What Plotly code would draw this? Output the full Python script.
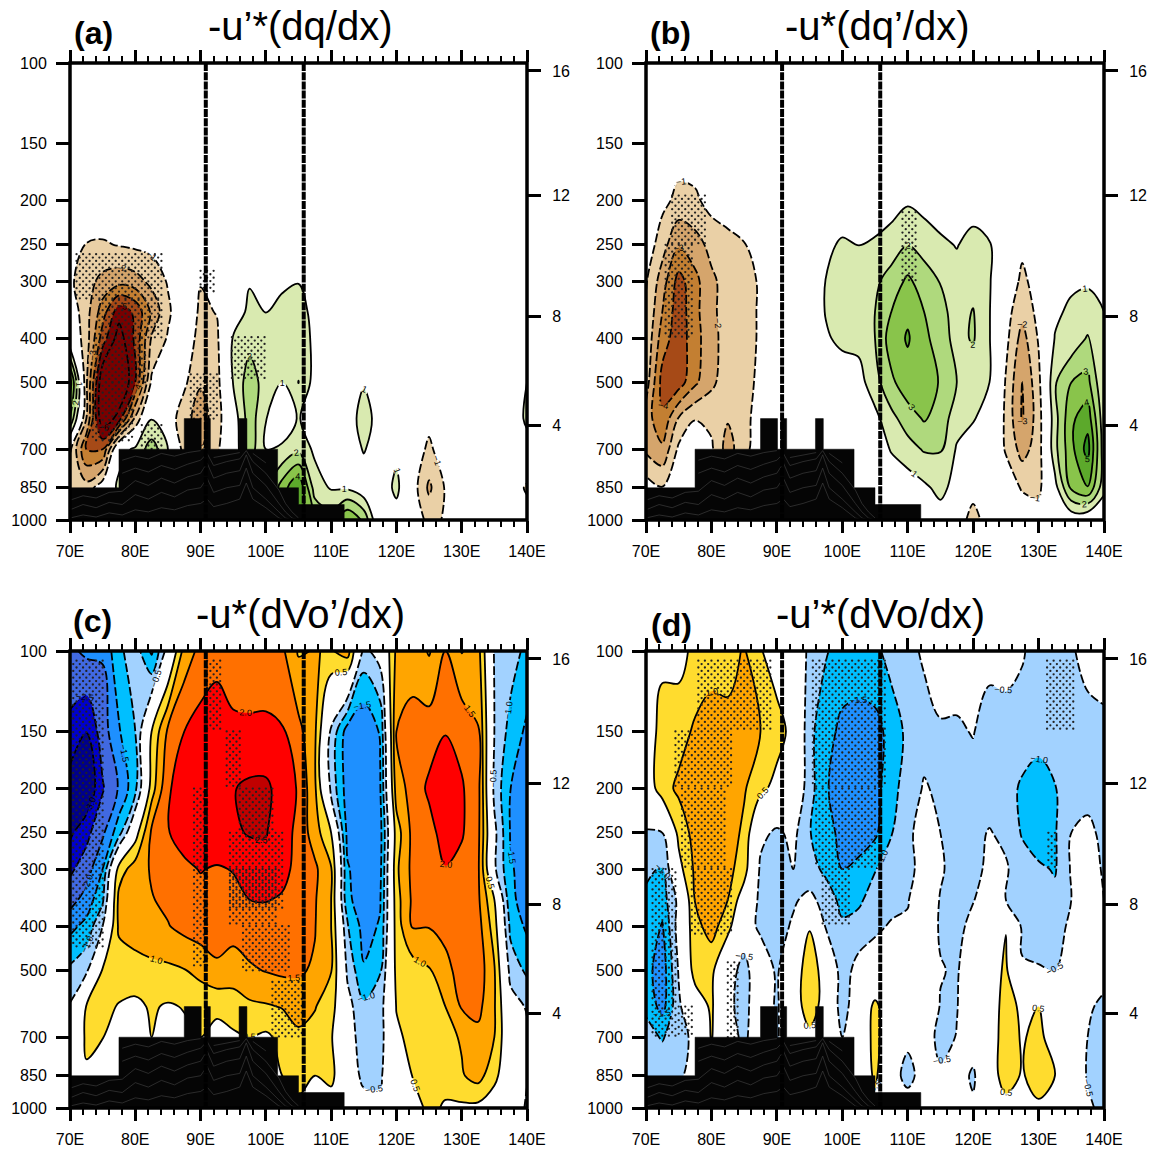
import plotly.graph_objects as go

lons = [70,72.5,75,77.5,80,82.5,85,87.5,90,92.5,95,97.5,100,102.5,105,107.5,110,112.5,115,117.5,120,122.5,125,127.5,130,132.5,135,137.5,140]
levs = [100,150,200,250,300,350,400,500,600,700,850,1000]

panel_a = [
 [0]*29,
 [0]*29,
 [0,-.2,-.3,-.2,-.2,-.1,0,0,0,0,0,0,0,0,0,0,0,0,0,0,0,0,0,0,0,0,0,0,0],
 [0,-1.05,-1.1,-.95,-.8,-.7,-.2,0,0,0,0,.1,.1,.1,.1,0,0,0,0,0,0,0,0,0,0,0,0,0,0],
 [-.8,-1.6,-2.3,-2.6,-2.4,-1.7,-.9,0,-.95,-.7,0,.9,.6,.8,.95,.3,0,0,0,0,0,0,0,0,0,0,0,0,0],
 [-.3,-1.6,-3.5,-5.6,-4.8,-2.8,-1.2,-.1,-1.2,-.95,.2,1.3,.98,1.3,1.5,.6,0,0,0,0,0,0,0,0,0,0,0,0,0],
 [0,-1.5,-4.5,-6.5,-4.8,-1.9,-.9,-.1,-1.5,-1.2,1.1,1.6,1.5,1.5,1.5,.8,0,0,.2,0,0,0,0,0,0,0,0,0,.2],
 [4.5,-1.8,-7,-7.5,-5,-.8,0,-.8,-1.9,-1.4,1.05,2.6,1.5,1.0,2.02,.6,0,.2,.92,.2,0,0,-.1,0,0,0,0,.2,1.0],
 [3,-2,-7,-5.5,-1.8,.95,-.4,-1.6,-2.5,-1.5,.3,2.6,1.02,.6,1.05,.6,.1,.5,1.4,.6,.2,-.3,-.7,-.2,0,0,0,.3,1.2],
 [-.8,-4,-4,.5,1.2,2.5,1.1,-1.5,-2,-1.2,.2,2.5,1.0,1.1,1.7,.8,.2,.2,1.1,.3,.7,-.4,-1.2,-.4,0,0,0,0,.6],
 [-1.3,-1.6,-.3,1.3,2,1,0,-.5,-1,-.5,.5,1.5,1.5,3.5,5,1.5,.9,.85,.2,.2,1.3,-.5,-2.2,-.9,0,0,0,-.2,-1.2],
 [0,0,0,0,0,0,0,0,0,0,0,0,1,3,4.5,3,2.5,4,2.8,-.3,.4,-.3,-1.3,-.9,0,0,0,0,-.3],
]
panel_b = [
 [0]*29,
 [0,0,-.4,-.3,0,0,0,0,0,0,0,0,0,0,0,0,.2,0,0,0,0,0,0,0,0,0,0,0,0],
 [0,-.7,-1.3,-1.2,-.6,-.3,-.1,0,0,0,0,0,0,0,.1,.5,.85,.6,.4,.3,.5,0,0,0,0,0,0,0,0],
 [-.3,-1.6,-2.9,-2.4,-1.7,-1.4,-1.05,-.7,-.1,.1,.2,.7,1.2,.98,1.2,1.5,1.98,1.6,1.2,.95,1.35,1.1,.2,-.8,-.2,0,.1,.1,0],
 [-.9,-2.5,-4.4,-3.3,-2.2,-1.6,-1.3,-.9,-.1,.1,.4,1.03,1.3,1.3,1.8,2.4,3.2,2.5,1.95,1.4,1.6,1.1,-.3,-1.2,-.6,.3,.8,.9,.6],
 [-1.05,-3,-4.6,-3.3,-2.2,-1.6,-1.3,-.9,-.1,.1,.4,1.05,1.3,1.4,2,3,3.8,3,2.3,1.6,2.05,1.05,-.6,-1.7,-.7,.8,1.2,1.3,1],
 [-1.2,-3.5,-4.6,-3.4,-2.3,-1.6,-1.3,-.9,-.1,0,.3,.9,1.2,1.3,2,3.5,4.1,3.3,2.4,1.7,2.1,1.05,-.7,-2.4,-.9,1.05,1.3,2.1,1],
 [-1.5,-4.4,-4.5,-3.2,-2.2,-1.5,-1.3,-.8,0,0,0,.1,.5,.6,1.6,2.8,3.6,3.3,2.95,2,1.5,1,-1.1,-3.05,-1.3,1.9,3,3.3,1],
 [-2.5,-3.8,-1.9,-1.05,-1.3,-1.9,-1.2,-.7,0,0,0,0,0,.1,.7,1.7,2.5,3.1,2.6,1.4,1.1,.4,-1.2,-3.1,-1.5,1.6,3.8,4.6,1.3],
 [-2.2,-2.8,-.8,-.2,-.8,-2.5,-1.2,-.6,0,0,0,0,0,0,.2,1.1,1.6,2.1,2.1,.9,.3,0,-1.1,-2.4,-1.5,1.7,3.7,5.4,1.4],
 [-.5,-.95,-.3,0,-.3,-1,-.5,-.2,0,0,0,0,0,0,0,.1,.4,.8,1.3,.6,-.2,0,-.4,-1.1,-1.3,.6,3.2,3.95,1.3],
 [0,0,0,0,0,0,0,0,0,0,0,0,0,0,0,0,0,.2,.5,.1,-1.8,0,0,-.3,-.4,0,.2,0,0],
]
panel_c = [
 [-4.2,-3.8,-3.9,-2.2,-1.5,-3.2,-.5,2.4,3.3,3.5,3.6,3.5,3.4,3.2,1.9,2.05,1.9,2.5,-1.3,-.5,2.2,2.6,1.9,3.0,1.95,2.4,-1.1,-1.5,-2.3],
 [-5.3,-5.98,-4.5,-3.1,-2.0,1.0,3.2,4.0,4.4,4.8,4.15,4.15,4.2,4.1,3.3,2.2,-1.2,-3.5,-3.9,-2.9,3.0,3.3,3.5,3.95,3.7,3.1,-1.0,-2.4,-3.2],
 [-6.5,-7,-5.1,-3.9,-2.3,1.5,3.9,4.4,4.6,4.9,4.95,5.2,5.2,4.6,3.9,2.2,-1.3,-3.5,-3.9,-3.1,2.5,3.4,4.2,4.7,4.1,3.4,-1.3,-3.0,-3.5],
 [-6.2,-5.3,-4.2,-2.4,.5,3.2,3.95,4.4,4.6,4.8,4.9,5.05,5.05,4.5,3.7,2.5,1.0,-3.3,-3.8,-3.4,1.5,3.3,3.6,4.5,4.1,3.3,-.7,-3.1,-3.9],
 [-5.2,-4.5,-3.0,1.5,2.5,3.1,3.5,3.8,4.05,3.9,4.05,4.6,4.8,4.3,3.7,3.2,2.1,-2.9,-3.6,-3.3,1.8,3.3,3.6,3.95,3.7,3.2,-.8,-2.9,-3.4],
 [-4.4,-3.6,-2.2,2.3,2.8,2.95,3.2,3.6,3.7,3.6,3.7,4.0,4.05,3.9,3.5,3.1,2.0,-2.8,-3.5,-3.1,1.6,3.2,3.4,3.5,3.4,3.2,1.0,-2.8,-3.4],
 [-3.3,-2.7,-1.0,2.2,2.6,2.8,2.95,3.3,3.5,3.5,3.5,3.6,3.5,3.4,3.3,3.05,2.0,-1.9,-3.4,-2.9,1.5,3.1,3.05,3.3,3.5,3.4,1.5,-2.3,-3.2],
 [-1.8,-1.2,1.1,1.4,1.5,1.7,1.8,1.95,2.3,2.8,2.4,2.85,3.05,3.2,3.1,2.9,2.05,-1.2,-2.9,-2.1,1.3,1.5,1.9,2.7,3.4,3.6,2.1,-1.4,-2.2],
 [-.9,1.05,1.2,.95,.8,1.1,.9,1.05,1.3,1.2,1.6,1.8,1.9,2.05,2.6,2.05,1.5,-.6,-1.8,-1.5,1.05,1.4,1.6,2.0,3.1,3.3,2.1,-.5,-1.1],
 [-.5,1.2,1.03,.5,.6,1.0,.6,.8,1.0,.7,.8,1.0,.8,1.3,1.7,1.7,1.1,-.4,-1.6,-1.5,.8,1.3,1.5,1.7,2.1,2.7,2.0,-.2,-.8],
 [0,.85,.3,.4,.5,.5,.5,.5,.5,.5,.5,.5,.5,1,1.3,1.0,1.3,-.2,-1.3,-1.2,.4,1.03,1.5,1.3,1.9,2.4,1.3,0,-.9],
 [0,0,0,0,0,0,0,0,0,0,0,0,0,.5,.8,.3,.4,0,-.5,-.7,0,.6,1.2,.9,.8,.7,.3,0,-1.2],
]
panel_d = [
 [0,.8,.6,1.3,1.6,1.6,2.1,1.1,.3,-.2,-1.2,-1.9,-2.5,-2.4,-2.3,-1.5,-1.3,-.85,-.5,-.6,-.5,-.7,-.7,-.93,-1.3,-1.5,-1.1,-.7,-.6],
 [.5,1.3,1.6,2.15,2.4,2.3,2.4,2.0,1.5,.6,-1.7,-2.7,-3.2,-3.4,-3.3,-2.7,-1.7,-1.4,-1.1,-1.1,-.96,-1.4,-1.3,-1.3,-1.5,-1.6,-1.6,-1.3,-1.2],
 [.2,1.6,2.2,2.5,2.6,2.6,2.1,1.3,.6,.2,-1.6,-2.9,-3.5,-3.6,-3.4,-2.3,-1.6,-.9,-1.2,-1.3,-1.3,-1.4,-1.5,-2.2,-2.6,-2.05,-1.4,-1.3,-1.2],
 [-1.1,-1,1.3,2.4,2.6,2.5,1.8,-.7,-1.2,-.7,-1.95,-2.6,-3.3,-3.6,-3.2,-2.05,-1.2,-.6,-1,-1.3,-1.2,-.95,-1.2,-2.1,-2.7,-2.1,-1.0,-.8,-1.2],
 [-1.9,-2.05,.6,2.2,2.5,2.3,1.5,-1.2,-1.2,-1,-1.5,-2.3,-3,-2.7,-2.05,-1.6,-1.3,-.6,-.9,-1.3,-1.4,-.7,-.9,-1.5,-1.8,-2.1,-.9,-.6,-1.1],
 [-2.1,-2.5,-.7,2.05,2.3,2.0,.3,-1.3,-1.3,-1.1,-.8,-1.3,-2.4,-2.2,-1.5,-1.3,-1.05,-.4,-1.05,-1.3,-1.05,-.5,-1.0,-1.3,-1.4,-1.7,-1.0,-.5,-1.0],
 [-2.1,-3.1,-.5,1.7,2.4,1.4,-.5,-1.2,-1.3,-.9,.9,-1.1,-1.8,-1.6,-1.2,-.9,-.9,-.4,-1.1,-1.3,-.7,.6,.95,-1.2,-1.3,-1.4,-.8,-.2,-.7],
 [-2.6,-3.6,-.9,1.5,1.3,-.6,-1.3,-.3,-1.15,.1,1.8,.3,-1.5,-.6,-.4,-.5,-.5,-.3,-.95,-1.1,-.3,.4,1.2,-.9,-.95,-1.0,-.5,-.2,-.5],
 [-2.2,-3.4,-1.2,.2,1.2,-.8,-1.3,-.3,-1.15,.1,1.8,.3,-1.5,-.2,1.3,.1,0,-.2,-1.05,-1.05,-.2,.4,1.4,.8,1.0,.1,0,-.8,-1.3],
 [-1.6,-2.1,-1.3,-.8,1.1,-.6,-1.2,-.3,-1.15,.1,.6,-.3,-1,-.1,1.4,0,-.6,-.3,-1.4,-.95,-.3,.4,1.5,.9,1.3,.4,0,-1.0,-1.4],
 [-1.2,-1.2,-1.2,-.5,.5,-.5,-1,-.3,-1,-.5,0,-.5,-.5,0,1.2,-.2,-1.6,-.2,-.8,-.4,-1.2,.4,1.5,.9,1.5,1.0,0,-1.1,-1.5],
 [-.5,0,0,0,0,0,0,0,0,0,0,0,0,0,.7,0,0,0,-.2,-.2,-.8,0,.6,.1,.8,.3,0,-.8,-1.3],
]
for grid in (panel_a, panel_b, panel_c, panel_d):
    assert len(grid) == len(levs) and all(len(r) == len(lons) for r in grid)

terrain_edges = [70,77.5,87.5,90.1,90.6,91.5,95.9,97.1,101.8,105,112]
terrain_pres  = [850,700,600,700,600,700,600,700,850,925]

# faint contour traces that show through the terrain mask
ground_lon = [70,72,74,76,78,80,82,84,86,88,90,91,92,94,96,97,98,100,102,103,104,105]
ground_lines = [
 [990,975,985,965,975,950,960,940,950,930,920,900,935,920,900,830,900,940,990,1000,1000,1000],
 [950,925,940,915,925,880,900,870,890,860,850,810,870,850,840,770,850,900,960,990,1000,1000],
 [905,885,895,870,865,820,840,810,830,805,790,750,810,790,780,720,790,840,920,960,990,1000],
 [None,None,None,None,790,770,785,760,775,755,740,715,760,745,735,705,745,790,860,920,960,990],
 [None,None,None,None,740,725,735,715,725,712,705,None,730,720,712,None,715,750,None,None,None,None],
]

# significance stipple areas: lon0, lon1, p0, p1
stipple_a = [(71,84,262,330),(74.5,84,330,400),(74,81.5,400,500),(73.5,79.5,500,670),(90,92,285,320),(88.5,92.5,480,600),(94.8,100,398,495),(81,84,620,700)]
stipple_b = [(74,79,195,250),(73,77,250,400),(109.2,111.2,212,300)]
stipple_c = [(70,75,105,450),(91,93.4,105,150),(94,96.3,150,200),(96,101,200,260),(94.5,102.6,250,370),(89,91,200,490),(94.5,101.5,300,400),(96.5,103.5,400,500),(101,105.5,530,700)]
stipple_d = [(78,89,105,150),(74.5,83,150,200),(75.5,82,200,300),(77,83,300,420),(95.5,106.5,105,200),(96,105,200,300),(97,101,300,400),(131.3,135.3,105,150),(131.5,132.5,250,300),(71,74.5,300,700),(75,77,600,700),(82.5,84,480,700)]

titles = ["-u’*(dq/dx)", "-u*(dq’/dx)", "-u*(dVo’/dx)", "-u’*(dVo/dx)"]
tags = ["(a)", "(b)", "(c)", "(d)"]
xticks = [70,80,90,100,110,120,130,140]
xlabels = ["70E","80E","90E","100E","110E","120E","130E","140E"]
yticks = [100,150,200,250,300,400,500,700,850,1000]
height_p = [104.1,194.6,358,620]
height_l = ["16","12","8","4"]
line_lons = [90.8, 105.8]

brown_green = ["#7a0000","#7a0000","#a64a17","#c37f32","#d5a56c","#ead0a6","#ffffff","#ffffff",
               "#d9eab0","#afd97d","#89c44b","#5ca92b","#2e8f1e","#0f6b12"]
blue_warm = ["#00008b","#0000cd","#4169e1","#1e90ff","#00bfff","#a2d2ff","#ffffff","#ffffff",
             "#ffdc2e","#ffa500","#ff7000","#ff0000","#c00000","#c00000"]

def step_scale(cols):
    n = len(cols) - 1
    out = []
    for i, c in enumerate(cols):
        a = max(0, (i - .5) / n)
        b = min(1, (i + .5) / n)
        out += [[a, c], [b, c]]
    return out

boxes = [(70,527,63,520),(646,1104,63,520),(70,527,651,1108),(646,1104,651,1108)]
S = 1150.0
fig = go.Figure()
layout = dict(width=1150, height=1150, margin=dict(l=0,r=0,t=0,b=0,autoexpand=False), autosize=False,
              paper_bgcolor="white", plot_bgcolor="white", showlegend=False,
              font=dict(family="Liberation Sans", color="black"))
annotations = []
shapes = []

def stipple_points(regions):
    xs, ys = [], []
    for lon0, lon1, p0, p1 in regions:
        row = 0
        p = p0
        while p <= p1:
            off = 0.5 if row % 2 else 0.0
            lon = lon0 + off
            while lon <= lon1:
                xs.append(lon); ys.append(p)
                lon += 1.0
            p *= 10 ** (3.4 / 457)
            row += 1
    return xs, ys

panels = [(panel_a,brown_green,stipple_a,1.0),(panel_b,brown_green,stipple_b,1.0),(panel_c,blue_warm,stipple_c,.5),(panel_d,blue_warm,stipple_d,.5)]
for i, (grid, cols, stip, unit) in enumerate(panels):
    n = i + 1
    sx = "" if n == 1 else str(n)
    xa, ya, yb = "x" + sx, "y" + sx, "y" + str(n + 4)
    smooth = 1.0
    zz = [[v * unit for v in r] for r in grid]
    fig.add_trace(go.Contour(x=lons, y=levs, z=zz, xaxis=xa, yaxis=ya, showscale=False, hoverinfo="skip",
        colorscale=step_scale(cols),
        contours=dict(start=-6*unit, end=6*unit, size=unit, coloring="fill", showlines=False),
        line=dict(width=0, smoothing=smooth)))
    sxs, sys_ = stipple_points(stip)
    fig.add_trace(go.Scatter(x=sxs, y=sys_, xaxis=xa, yaxis=ya, mode="markers", hoverinfo="skip",
        marker=dict(size=2.3, color="#222222", line=dict(width=0))))
    lfont = dict(size=9, family="Liberation Sans", color="black")
    lfmt = ".0f" if unit == 1.0 else ".1f"
    fig.add_trace(go.Contour(x=lons, y=levs, z=zz, xaxis=xa, yaxis=ya, showscale=False, hoverinfo="skip",
        contours=dict(start=-6*unit, end=-unit, size=unit, coloring="none", showlabels=True, labelfont=lfont, labelformat=lfmt),
        line=dict(color="black", width=1.8, dash="9px,3px", smoothing=smooth)))
    fig.add_trace(go.Contour(x=lons, y=levs, z=zz, xaxis=xa, yaxis=ya, showscale=False, hoverinfo="skip",
        contours=dict(start=unit, end=6*unit, size=unit, coloring="none", showlabels=True, labelfont=lfont, labelformat=lfmt),
        line=dict(color="black", width=1.8, smoothing=smooth)))
    tx, ty = [70], [1000]
    for j, p in enumerate(terrain_pres):
        tx += [terrain_edges[j], terrain_edges[j + 1]]
        ty += [p, p]
    tx += [terrain_edges[-1], 70]
    ty += [1000, 1000]
    fig.add_trace(go.Scatter(x=tx, y=ty, xaxis=xa, yaxis=ya, mode="lines", fill="toself", fillcolor="#050505",
        line=dict(color="#050505", width=0.5), hoverinfo="skip"))
    for gl in ground_lines:
        fig.add_trace(go.Scatter(x=ground_lon, y=gl, xaxis=xa, yaxis=ya, mode="lines", hoverinfo="skip",
            line=dict(color="#444444", width=0.6)))
    for lon in line_lons:
        fig.add_trace(go.Scatter(x=[lon, lon], y=[100, 1000], xaxis=xa, yaxis=ya, mode="lines", hoverinfo="skip",
            line=dict(color="black", width=4, dash="8px,1.2px")))
    fig.add_trace(go.Scatter(x=[70], y=[100], xaxis=xa, yaxis=yb, mode="markers", marker=dict(opacity=0), hoverinfo="skip"))

    x0, x1, y0, y1 = boxes[i]
    dx = [x0 / S, x1 / S]
    dy = [1 - y1 / S, 1 - y0 / S]
    shapes.append(dict(type="rect", xref="paper", yref="paper", x0=dx[0], x1=dx[1], y0=dy[0], y1=dy[1],
        line=dict(color="black", width=3.5), layer="above"))
    layout["xaxis" + sx] = dict(domain=dx, anchor=ya, range=[70, 140], tickvals=xticks, ticktext=xlabels,
        ticks="outside", ticklen=12, tickwidth=3, linewidth=1, linecolor="black", tickcolor="black", ticklabelstandoff=5,
        showline=True, mirror="ticks", showgrid=False, zeroline=False, tickfont=dict(size=16, family="Liberation Sans"),
        minor=dict(tickvals=list(range(70, 141, 2)), ticks="outside", ticklen=6, tickwidth=2, tickcolor="black", showgrid=False))
    layout["yaxis" + sx] = dict(domain=dy, anchor=xa, type="log", range=[3, 2], tickvals=yticks,
        ticktext=[str(v) for v in yticks], ticks="outside", ticklen=13, tickwidth=3, linewidth=1, linecolor="black",
        tickcolor="black", showline=True, showgrid=False, zeroline=False, ticklabelstandoff=6,
        tickfont=dict(size=16, family="Liberation Sans"))
    layout["yaxis" + str(n + 4)] = dict(domain=dy, anchor=xa, overlaying=ya, side="right", type="log", range=[3, 2],
        tickvals=height_p, ticktext=height_l, ticks="outside", ticklen=13, tickwidth=3, tickcolor="black", ticklabelstandoff=8,
        showline=False, showgrid=False, zeroline=False, tickfont=dict(size=16, family="Liberation Sans"))

title_pos = [(300,26),(877,26),(300,614),(880,614)]
tag_pos = [(93,33),(670,33),(92,621),(671,625)]
for t, (px, py) in zip(titles, title_pos):
    annotations.append(dict(text=t, x=px / S, y=1 - py / S, xref="paper", yref="paper", showarrow=False,
        xanchor="center", yanchor="middle", font=dict(size=40, family="Liberation Sans", color="black")))
for t, (px, py) in zip(tags, tag_pos):
    annotations.append(dict(text="<b>%s</b>" % t, x=px / S, y=1 - py / S, xref="paper", yref="paper", showarrow=False,
        xanchor="center", yanchor="middle", font=dict(size=32, family="Liberation Sans", color="black")))
layout["annotations"] = annotations
layout["shapes"] = shapes
fig.update_layout(**layout)
fig.write_html("out.html", config=dict(displayModeBar=False),
               post_script="document.body.style.margin='0';document.body.style.overflow='hidden';")
